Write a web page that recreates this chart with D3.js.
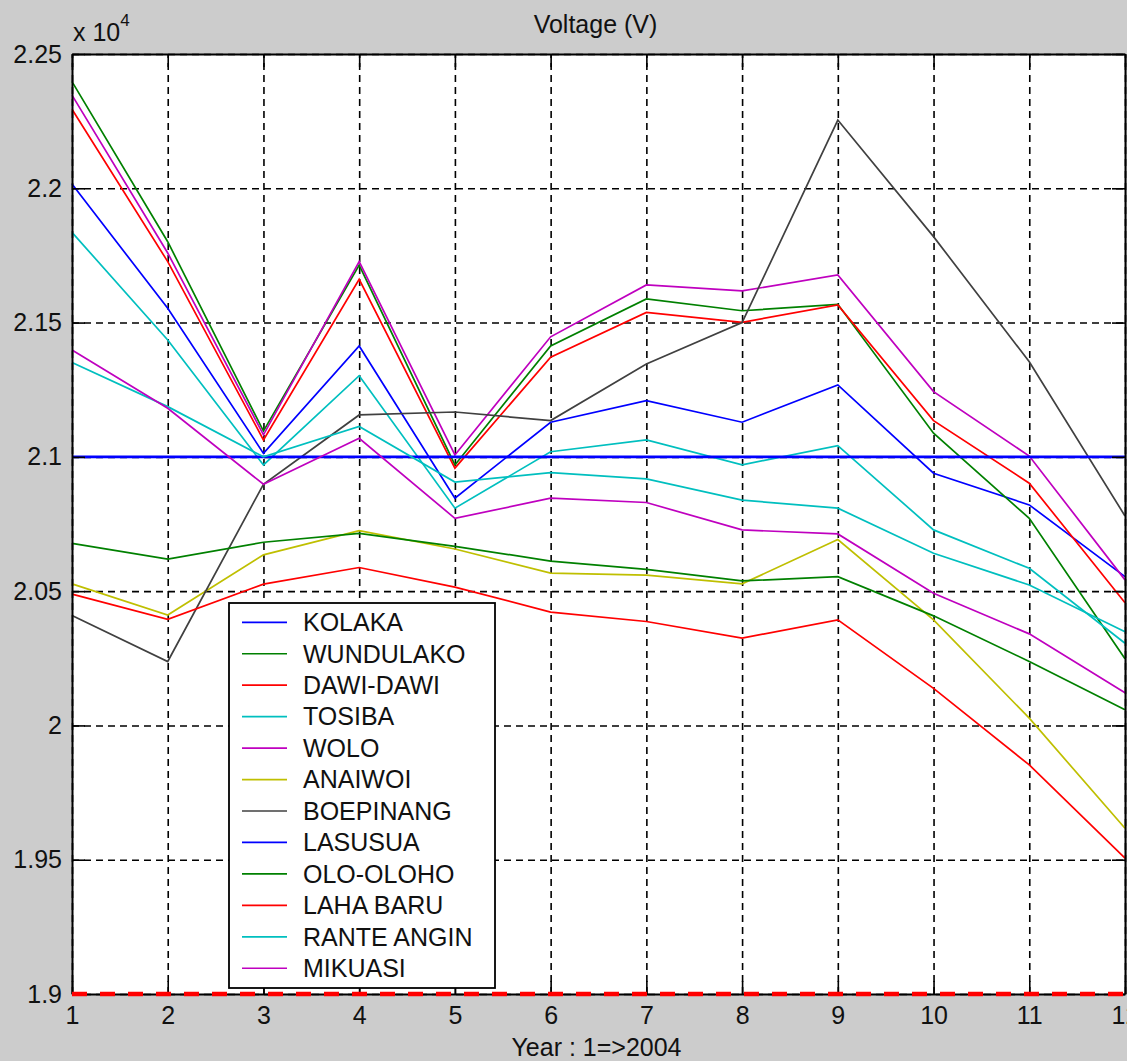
<!DOCTYPE html>
<html>
<head>
<meta charset="utf-8">
<script src="https://cdn.jsdelivr.net/npm/d3@7"></script>
<style>
  html, body { margin: 0; padding: 0; background: #cccccc; }
  svg { display: block; font-family: "Liberation Sans", Arial, sans-serif; }
</style>
</head>
<body>
<svg id="chart"></svg>
<script>
// ---- data (volts) ----
const years = [1, 2, 3, 4, 5, 6, 7, 8, 9, 10, 11, 12];
const stations = ["KOLAKA", "WUNDULAKO", "DAWI-DAWI", "TOSIBA", "WOLO", "ANAIWOI",
    "BOEPINANG", "LASUSUA", "OLO-OLOHO", "LAHA BARU", "RANTE ANGIN", "MIKUASI"];

const kolaka     = [22016, 21553, 21013, 21413, 20846, 21129, 21209, 21129, 21268, 20939, 20821, 20554];
const wundulako  = [22397, 21801, 21096, 21714, 20970, 21413, 21588, 21544, 21568, 21088, 20771, 20248];
const dawiDawi   = [22294, 21727, 21063, 21661, 20958, 21371, 21538, 21501, 21566, 21135, 20902, 20457];
const tosiba     = [21836, 21435, 20970, 21302, 20809, 21019, 21063, 20970, 21042, 20728, 20585, 20306];
const wolo       = [22347, 21759, 21082, 21727, 21007, 21447, 21640, 21618, 21677, 21243, 21003, 20542];
const anaiwoi    = [20527, 20411, 20635, 20725, 20657, 20567, 20560, 20527, 20692, 20393, 20027, 19617];
const boepinang  = [20409, 20238, 20898, 21156, 21167, 21135, 21346, 21500, 22254, 21820, 21354, 20780];
const lasusua    = [21000, 21000, 21000, 21000, 21000, 21000, 21000, 21000, 21000, 21000, 21000, 21000];
const oloOloho   = [20678, 20619, 20682, 20715, 20667, 20612, 20581, 20538, 20554, 20408, 20238, 20058];
const lahaBaru   = [20489, 20395, 20526, 20588, 20515, 20422, 20387, 20325, 20393, 20138, 19853, 19506];
const ranteAngin = [21351, 21187, 21000, 21113, 20906, 20941, 20918, 20839, 20809, 20641, 20523, 20349];
const mikuasi    = [21398, 21181, 20898, 21069, 20771, 20846, 20830, 20728, 20713, 20492, 20341, 20122];

const seriesValues = [kolaka, wundulako, dawiDawi, tosiba, wolo, anaiwoi,
    boepinang, lasusua, oloOloho, lahaBaru, ranteAngin, mikuasi];

const lowerLimit = [19000, 19000];      // dashed red limit line, first to last year
const yTicks = [19000, 19500, 20000, 20500, 21000, 21500, 22000, 22500];

// classic MATLAB colour order, cycled
const colorOrder = ["#0000ff", "#008000", "#ff0000", "#00bfbf", "#bf00bf", "#bfbf00", "#404040"];

// ---- layout ----
const chartWidth = 1127, chartHeight = 1061;
const plotLeft = 72, plotRight = 1125, plotTop = 54, plotBottom = 994;

const svg = d3.select("#chart")
    .attr("width", chartWidth)
    .attr("height", chartHeight);

svg.append("rect")
    .attr("width", chartWidth).attr("height", chartHeight)
    .attr("fill", "#cccccc");

const x = d3.scaleLinear().domain([1, 12]).range([plotLeft, plotRight]);
const y = d3.scaleLinear().domain([19000, 22500]).range([plotBottom, plotTop]);

// plot background
svg.append("rect")
    .attr("x", plotLeft).attr("y", plotTop)
    .attr("width", plotRight - plotLeft).attr("height", plotBottom - plotTop)
    .attr("fill", "#ffffff");

// dashed grid
const gridX = svg.append("g")
    .attr("transform", "translate(0," + plotBottom + ")")
    .call(d3.axisBottom(x).tickValues(years).tickSize(-(plotBottom - plotTop)).tickFormat(""));
const gridY = svg.append("g")
    .attr("transform", "translate(" + plotLeft + ",0)")
    .call(d3.axisLeft(y).tickValues(yTicks).tickSize(-(plotRight - plotLeft)).tickFormat(""));
[gridX, gridY].forEach(function (g) {
    g.select(".domain").remove();
    g.selectAll("line")
        .attr("stroke", "#000")
        .attr("stroke-width", 1.6)
        .attr("stroke-dasharray", "7,5");
});

// data lines
const line = d3.line()
    .x(function (d, i) { return x(years[i]); })
    .y(function (d) { return y(d); });

seriesValues.forEach(function (vals, i) {
    svg.append("path")
        .datum(vals)
        .attr("fill", "none")
        .attr("stroke", colorOrder[i % colorOrder.length])
        .attr("stroke-width", stations[i] === "LASUSUA" ? 2.6 : 1.7)
        .attr("d", line);
});

// axes box with inward ticks on all four sides
function styleAxis(g) {
    g.select(".domain").attr("stroke", "#000").attr("stroke-width", 2);
    g.selectAll(".tick line").attr("stroke", "#000").attr("stroke-width", 1.6);
    g.selectAll("text")
        .attr("fill", "#111")
        .style("font-size", "25px")
        .style("font-family", "'Liberation Sans', Arial, sans-serif");
}

const fmtY = function (d) { return String(+(d / 1e4).toFixed(2)); };

svg.append("g")
    .attr("transform", "translate(0," + plotBottom + ")")
    .call(d3.axisBottom(x).tickValues(years).tickSizeInner(-13).tickSizeOuter(0)
        .tickPadding(12).tickFormat(d3.format("d")))
    .call(styleAxis);
svg.append("g")
    .attr("transform", "translate(0," + plotTop + ")")
    .call(d3.axisTop(x).tickValues(years).tickSizeInner(-13).tickSizeOuter(0).tickFormat(""))
    .call(styleAxis);
svg.append("g")
    .attr("transform", "translate(" + plotLeft + ",0)")
    .call(d3.axisLeft(y).tickValues(yTicks).tickSizeInner(-13).tickSizeOuter(0)
        .tickPadding(10).tickFormat(fmtY))
    .call(styleAxis);
svg.append("g")
    .attr("transform", "translate(" + plotRight + ",0)")
    .call(d3.axisRight(y).tickValues(yTicks).tickSizeInner(-13).tickSizeOuter(0).tickFormat(""))
    .call(styleAxis);

// lower limit line, drawn over the bottom axis
svg.append("path")
    .datum(lowerLimit)
    .attr("fill", "none")
    .attr("stroke", "#ff0000")
    .attr("stroke-width", 4.5)
    .attr("stroke-dasharray", "15,13")
    .attr("d", d3.line()
        .x(function (d, i) { return x(i === 0 ? years[0] : years[years.length - 1]); })
        .y(function (d) { return y(d); }));

// exponent label, title, x label
const expo = svg.append("text")
    .attr("x", plotLeft + 1).attr("y", 41)
    .attr("fill", "#111")
    .style("font-size", "25px");
expo.append("tspan").text("x 10");
expo.append("tspan").attr("dy", -15).style("font-size", "17px").text("4");

svg.append("text")
    .attr("x", (plotLeft + plotRight) / 2 - 3).attr("y", 33)
    .attr("text-anchor", "middle")
    .attr("fill", "#111")
    .style("font-size", "25px")
    .text("Voltage (V)");

svg.append("text")
    .attr("x", (plotLeft + plotRight) / 2 - 2).attr("y", 1056)
    .attr("text-anchor", "middle")
    .attr("fill", "#111")
    .style("font-size", "25px")
    .text("Year : 1=>2004");

// legend
const legendX = 229, legendY = 603, legendW = 266, legendH = 385;
const rowStart = 622.3, rowStep = 31.45;

const legend = svg.append("g");
legend.append("rect")
    .attr("x", legendX).attr("y", legendY)
    .attr("width", legendW).attr("height", legendH)
    .attr("fill", "#ffffff")
    .attr("stroke", "#000")
    .attr("stroke-width", 1.8);

const rows = legend.selectAll(".row")
    .data(stations)
    .enter()
    .append("g")
    .attr("class", "row")
    .attr("transform", function (d, i) { return "translate(0," + (rowStart + i * rowStep) + ")"; });

rows.append("line")
    .attr("x1", 242).attr("x2", 287)
    .attr("stroke", function (d, i) { return colorOrder[i % colorOrder.length]; })
    .attr("stroke-width", 1.7);

rows.append("text")
    .attr("x", 303)
    .attr("dy", "0.35em")
    .attr("fill", "#111")
    .style("font-size", "25px")
    .text(function (d) { return d; });
</script>
</body>
</html>
